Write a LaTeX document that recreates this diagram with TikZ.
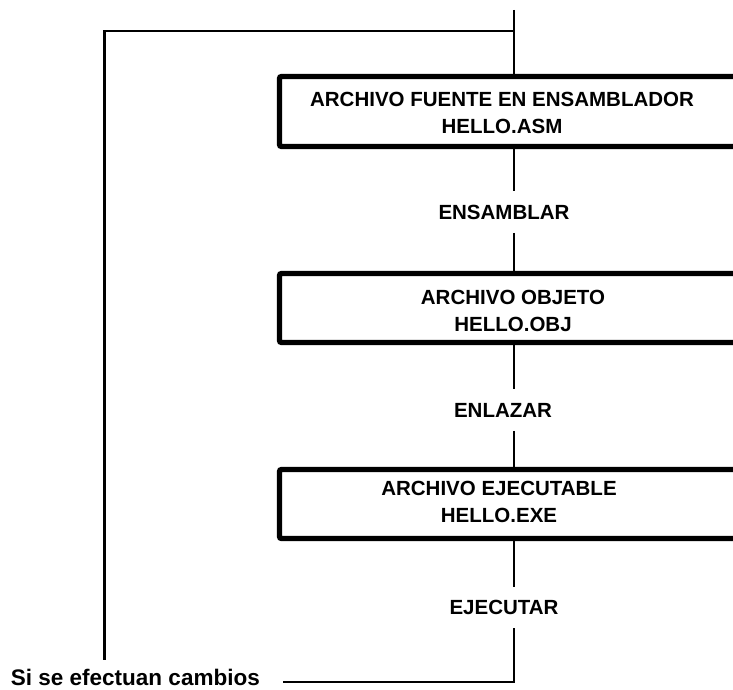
\documentclass[tikz,border=0pt]{standalone}
\usepackage{fontspec}
\setmainfont{Liberation Sans}
\usetikzlibrary{positioning,calc}

\begin{document}
\begin{tikzpicture}[x=1pt,y=-1pt,
    caja/.style={draw,line width=5.3pt,rounded corners=2pt,minimum width=469pt,inner sep=0pt},
    rotulo/.style={font=\fontsize{20.5}{27}\selectfont\bfseries,align=center,inner sep=0pt},
    paso/.style={font=\fontsize{20.5}{24}\selectfont\bfseries,inner xsep=0pt,inner ysep=13.5pt},
    linea/.style={line width=2.2pt}]
    \useasboundingbox (0,0) rectangle (733,690);

    \node[caja,minimum height=70pt] (fuente) at (514,111.5) {};
    \node[rotulo] (fuentetxt) at (502,113) {ARCHIVO FUENTE EN ENSAMBLADOR\\HELLO.ASM};
    \node[caja,minimum height=69pt] (objeto) at (514,308) {};
    \node[rotulo] (objetotxt) at (513,311) {ARCHIVO OBJETO\\HELLO.OBJ};
    \node[caja,minimum height=69pt] (ejecutable) at (514,504) {};
    \node[rotulo] (ejecutabletxt) at (499,502) {ARCHIVO EJECUTABLE\\HELLO.EXE};

    \node[paso] (ensamblar) at (504,212) {ENSAMBLAR};
    \node[paso] (enlazar) at (503,410) {ENLAZAR};
    \node[paso] (ejecutar) at (504,607.5) {EJECUTAR};

    \node[font=\fontsize{22.5}{27}\selectfont\bfseries,anchor=east,inner xsep=23pt,inner ysep=0pt]
      (cambios) at (283,677) {Si se efectuan cambios};

    \coordinate (entrada) at (514,10);
    \coordinate (union) at (514,31);
    \coordinate (retorno) at (104.5,660);
    \coordinate (esquina) at (514,682);

    \draw[linea] (entrada) -- (fuente.north);
    \draw[linea] (fuente.south) -- (fuente.south |- ensamblar.north);
    \draw[linea] (ensamblar.south -| objeto) -- (objeto.north);
    \draw[linea] (objeto.south) -- (objeto.south |- enlazar.north);
    \draw[linea] (enlazar.south -| ejecutable) -- (ejecutable.north);
    \draw[linea] (ejecutable.south) -- (ejecutable.south |- ejecutar.north);
    \draw[linea] (ejecutar.south -| ejecutable) -- (esquina) -- (esquina -| cambios.east);
    \draw[linea] (union) -| (retorno);
\end{tikzpicture}
\end{document}
